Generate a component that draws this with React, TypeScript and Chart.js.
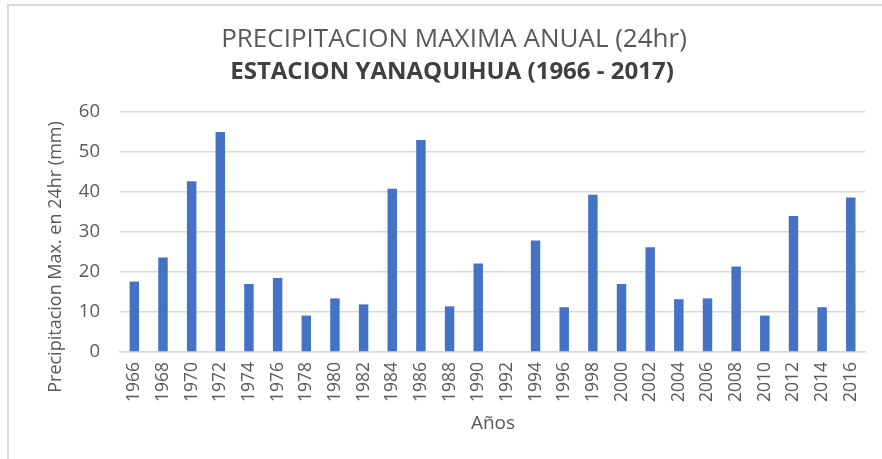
import React, { useEffect, useRef } from "react";
import { Chart, registerables } from "chart.js";

Chart.register(...registerables);

const years: string[] = [
  "1966", "1968", "1970", "1972", "1974", "1976", "1978", "1980", "1982", "1984",
  "1986", "1988", "1990", "1992", "1994", "1996", "1998", "2000", "2002", "2004",
  "2006", "2008", "2010", "2012", "2014", "2016",
];
const precipMax: number[] = [
  17.6, 23.6, 42.7, 55.0, 17.0, 18.5, 9.1, 13.4, 11.9, 40.8,
  53.0, 11.4, 22.1, 0, 27.9, 11.2, 39.3, 17.0, 26.2, 13.2,
  13.4, 21.4, 9.1, 34.0, 11.2, 38.6,
];
const titleText = "PRECIPITACION MAXIMA ANUAL (24hr)";
const subtitleText = "ESTACION YANAQUIHUA (1966 - 2017)";
const yTitle = "Precipitacion Max. en 24hr (mm)";
const xTitle = "Años";

const FONT = "'Open Sans', sans-serif";

const decorPlugin = {
  id: "decor",
  beforeDraw(chart: any) {
    const ctx = chart.ctx;
    ctx.save();
    ctx.fillStyle = "#ffffff";
    ctx.fillRect(0, 0, chart.width, chart.height);
    ctx.fillStyle = "#d9d9d9";
    ctx.fillRect(7, 4, chart.width - 7, 2);
    ctx.fillRect(7, 4, 2, chart.height - 4);
    ctx.restore();
  },
  afterDraw(chart: any) {
    const ctx = chart.ctx;
    ctx.save();
    ctx.textAlign = "center";
    ctx.textBaseline = "middle";
    ctx.fillStyle = "#595959";
    ctx.font = `26px ${FONT}`;
    ctx.fillText(titleText, 454, 40);
    ctx.fillStyle = "#404040";
    ctx.font = `bold 24px ${FONT}`;
    ctx.fillText(subtitleText, 452, 72);
    ctx.fillStyle = "#595959";
    ctx.font = `19px ${FONT}`;
    ctx.fillText(xTitle, 493, 424);
    ctx.font = `18px ${FONT}`;
    ctx.translate(56, 257);
    ctx.rotate(-Math.PI / 2);
    ctx.fillText(yTitle, 0, 0);
    ctx.restore();
  },
};

export default function App() {
  const ref = useRef<HTMLCanvasElement>(null);
  useEffect(() => {
    if (!ref.current) return;
    const chart = new Chart(ref.current, {
      type: "bar",
      data: {
        labels: years,
        datasets: [
          {
            data: precipMax,
            backgroundColor: "#4472C4",
            borderWidth: 0,
            barPercentage: 0.33,
            categoryPercentage: 1.0,
          },
        ],
      },
      options: {
        animation: false,
        responsive: false,
        devicePixelRatio: 1,
        layout: { padding: { left: 0, right: 11, top: 112, bottom: 0 } },
        plugins: {
          legend: { display: false },
          title: { display: false },
          tooltip: { enabled: false },
        },
        scales: {
          x: {
            afterFit: (s: any) => {
              s.height = 107;
            },
            grid: { display: false, drawTicks: false },
            border: { display: true, color: "#d9d9d9", width: 1.5 },
            ticks: {
              autoSkip: false,
              maxRotation: 90,
              minRotation: 90,
              padding: 10,
              color: "#595959",
              font: { family: FONT, size: 17.5 },
            },
          },
          y: {
            min: 0,
            max: 60,
            afterFit: (s: any) => {
              s.width = 120;
            },
            grid: { color: "#d9d9d9", lineWidth: 1.5, drawTicks: false },
            border: { display: false },
            ticks: {
              stepSize: 10,
              padding: 20,
              color: "#595959",
              font: { family: FONT, size: 18.5 },
            },
          },
        },
      },
      plugins: [decorPlugin],
    });
    return () => chart.destroy();
  }, []);
  return (
    <div
      style={{
        position: "fixed",
        left: 0,
        top: 0,
        width: 882,
        height: 459,
        background: "#ffffff",
      }}
    >
      <canvas ref={ref} width={882} height={459} style={{ display: "block" }} />
    </div>
  );
}
